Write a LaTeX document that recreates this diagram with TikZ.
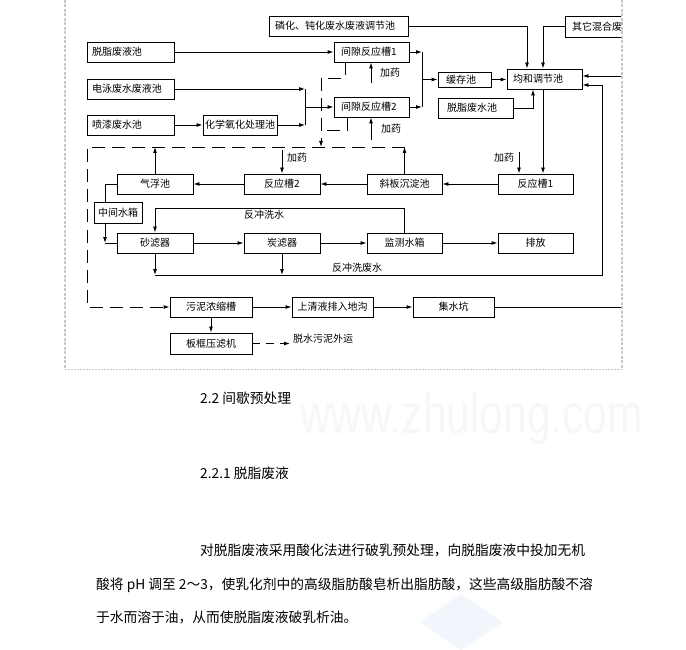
\documentclass[tikz,border=0pt]{standalone}
\usepackage{fontspec}
\setmainfont{Noto Sans CJK SC}
\newfontfamily\wmfont{Liberation Sans}
\usetikzlibrary{arrows.meta}
\begin{document}
\begin{tikzpicture}[x=1pt,y=-1pt,
  every node/.style={font=\fontsize{10}{12}\selectfont},
  box/.style={draw, line width=0.9pt, inner sep=0pt, minimum height=20pt},
  boxl/.style={box, align=left, inner ysep=0pt},
  ln/.style={line width=0.9pt},
  arr/.style={ln, -{Latex[length=6pt,width=4pt]}},
  dsh/.style={ln, dash pattern=on 13pt off 7pt},
  darr/.style={dsh, -{Latex[length=6pt,width=4pt]}},
  dshort/.style={ln, dash pattern=on 8pt off 6pt, -{Latex[length=6pt,width=4pt]}},
  frame/.style={draw=black!22, line width=2pt, dash pattern=on 3pt off 1.5pt},
  framethin/.style={draw=black!22, line width=1pt, dash pattern=on 2pt off 1pt},
  body/.style={font=\fontsize{13.75}{16}\selectfont, anchor=west, inner sep=0pt},
  lbl/.style={inner sep=0pt}
]
\useasboundingbox (0,0) rectangle (686,650);
\fill[white] (0,0) rectangle (686,650);

% watermark and faint logo
\node[text=black!3, font=\wmfont\fontsize{56}{56}\selectfont, xscale=0.76, anchor=base west, inner sep=0pt] (wm) at (300,433) {www.zhulong.com};
\fill[fill={rgb,255:red,240;green,246;blue,251}] (461,594) -- (503,622) -- (461,650) -- (420,622) -- cycle;

% frame
\draw[frame] (65,0) -- (65,369);
\draw[frame] (622,0) -- (622,369);
\draw[framethin] (65,369) -- (622,369);

% boxes
\node[boxl, text width=127pt, inner xsep=6pt] (lh) at (338.5,26) {磷化、钝化废水废液调节池};
\begin{scope}
\clip (0,0) rectangle (621,650);
\node[boxl, text width=80pt, inner xsep=7pt, minimum height=21pt] (other) at (612,26.5) {其它混合废};
\end{scope}
\node[boxl, text width=77pt, inner xsep=5pt] (tz1) at (130.5,52) {脱脂废液池};
\node[boxl, text width=77pt, inner xsep=5pt] (dy) at (130.5,89) {电泳废水废液池};
\node[boxl, text width=77pt, inner xsep=5pt] (pq) at (130.5,125) {喷漆废水池};
\node[box, minimum width=74pt] (hx) at (240,125) {化学氧化处理池};
\node[boxl, text width=61pt, inner xsep=7pt] (r1) at (371.5,52) {间隙反应槽1};
\node[boxl, text width=61pt, inner xsep=7pt] (r2) at (371.5,107) {间隙反应槽2};
\node[boxl, text width=37pt, inner xsep=8pt, minimum height=15pt] (hc) at (464.5,79.5) {缓存池};
\node[boxl, text width=63pt, inner xsep=6pt] (jh) at (544.5,79) {均和调节池};
\node[boxl, text width=57pt, inner xsep=9pt] (tz2) at (475.5,108) {脱脂废水池};
\node[box, minimum width=75pt] (fy1) at (535.5,184) {反应槽1};
\node[box, minimum width=75pt] (xb) at (404.5,184) {斜板沉淀池};
\node[box, minimum width=76pt] (fy2) at (282,184) {反应槽2};
\node[box, minimum width=76pt] (qf) at (155,184) {气浮池};
\node[box, minimum width=48pt, minimum height=21pt] (zj) at (118,212.5) {中间水箱};
\node[box, minimum width=76pt] (sl) at (155,243) {砂滤器};
\node[box, minimum width=76pt] (tl) at (282,243) {炭滤器};
\node[box, minimum width=75pt] (jc) at (404.5,243) {监测水箱};
\node[box, minimum width=75pt] (pf) at (535.5,243) {排放};
\node[box, minimum width=82pt] (wn) at (211,307) {污泥浓缩槽};
\node[box, minimum width=81pt] (sq) at (332.5,307) {上清液排入地沟};
\node[box, minimum width=81pt] (jsk) at (453.5,307) {集水坑};
\node[box, minimum width=82pt, minimum height=21pt] (bk) at (211,343.5) {板框压滤机};

% upper inflows
\coordinate (ja) at (305,89);
\coordinate (jb) at (305,125);
\coordinate (jm) at (305,107);
\draw[arr] (tz1.east) -- (r1.west);
\draw[arr] (dy.east) -- (ja);
\draw[arr] (pq.east) -- (hx.west);
\draw[arr] (hx.east) -- (jb);
\draw[ln] (ja) -- (jb);
\draw[arr] (jm) -- (r2.west);

% dosing to batch tanks
\coordinate (da) at (371,83);
\coordinate (db) at (371,140);
\draw[arr] (da) -- (da |- r1.south);
\draw[arr] (db) -- (db |- r2.south);
\node[lbl] (la) at (390,73) {加药};
\node[lbl] (lb) at (391,129) {加药};

% to buffer and equalisation
\coordinate (ka) at (422,52);
\coordinate (kb) at (422,107);
\coordinate (kc) at (422,79.5);
\draw[arr] (r1.east) -- (ka);
\draw[arr] (r2.east) -- (kb);
\draw[ln] (ka) -- (kb);
\draw[arr] (kc) -- (hc.west);
\draw[arr] (hc.east) -- (jh.west |- hc.east);
\draw[arr] (lh.east) -| ([xshift=-17.5pt]jh.north);
\draw[arr] (other.west) -| ([xshift=-1.5pt]jh.north);
\draw[arr] (tz2.east) -| ([xshift=-11.5pt]jh.south);
\coordinate (e1) at (621,76);
\draw[arr] (e1) -- (jh.east |- e1);

% backwash waste return
\coordinate (b1) at (155,275);
\coordinate (b2) at (602,275);
\draw[arr] (b1) -- (b2) |- ([yshift=-6pt]jh.east);

% main treatment line
\draw[arr] ([xshift=-1.5pt]jh.south) -- ([xshift=-1.5pt]jh.south |- fy1.north);
\coordinate (d1) at (519,152);
\draw[arr] (d1) -- (d1 |- fy1.north);
\node[lbl] (l1) at (504,158) {加药};
\draw[arr] (fy1.west) -- (xb.east);
\draw[arr] (xb.west) -- (fy2.east);
\coordinate (d2) at (282,150);
\draw[arr] (d2) -- (fy2.north);
\node[lbl] (l2) at (297,158) {加药};
\draw[arr] (fy2.west) -- (qf.east);
\coordinate (q1) at (105,184);
\draw[ln] (qf.west) -- (q1) -- (q1 |- zj.north);
\coordinate (q2) at (105,243);
\draw[arr] (q2 |- zj.south) -- (q2);
\draw[ln] (q2) -- (sl.west);
\draw[arr] (sl.east) -- (tl.west);
\draw[arr] (tl.east) -- (jc.west);
\draw[arr] (jc.east) -- (pf.west);

% backwash water
\coordinate (w1) at (404.5,208);
\draw[arr] (jc.north) -- (w1) -| (sl.north);
\node[lbl] (lw1) at (264,215) {反冲洗水};
\draw[arr] (sl.south) -- (sl.south |- b1);
\draw[arr] (tl.south) -- (tl.south |- b1);
\node[lbl] (lw2) at (357,268) {反冲洗废水};

% sludge lines
\coordinate (s0) at (321,147);
\coordinate (s1) at (345,78);
\coordinate (s2) at (321,78);
\coordinate (s3) at (347,130);
\coordinate (s4) at (321,130);
\draw[darr] (r1.south -| s1) -- (s1) -- (s2) -- (s0);
\draw[dsh] (r2.south -| s3) -- (s3) -- (s4);
\coordinate (sL) at (87,147);
\coordinate (sR) at (404.5,147);
\draw[darr] (sR) -- (sL) |- (wn.west);
\draw[arr] (xb.north) -- (sR);
\draw[arr] (qf.north) -- (qf.north |- sL);

% sludge treatment
\draw[arr] (wn.east) -- (sq.west);
\draw[arr] (sq.east) -- (jsk.west);
\coordinate (e2) at (621,307);
\draw[ln] (jsk.east) -- (e2);
\draw[arr] (wn.south) -- (bk.north);
\coordinate (t1) at (290,343.5);
\draw[dshort] (bk.east) -- (t1);
\node[lbl, anchor=west] (tw) at (293,339) {脱水污泥外运};

% text below
\node[body] (h1) at (200,398) {2.2 间歇预处理};
\node[body] (h2) at (200,473) {2.2.1 脱脂废液};
\node[body] (p1) at (200,550) {对脱脂废液采用酸化法进行破乳预处理，向脱脂废液中投加无机};
\node[body] (p2) at (96,585) {酸将 pH 调至 2～3，使乳化剂中的高级脂肪酸皂析出脂肪酸，这些高级脂肪酸不溶};
\node[body] (p3) at (96,617) {于水而溶于油，从而使脱脂废液破乳析油。};
\end{tikzpicture}
\end{document}
